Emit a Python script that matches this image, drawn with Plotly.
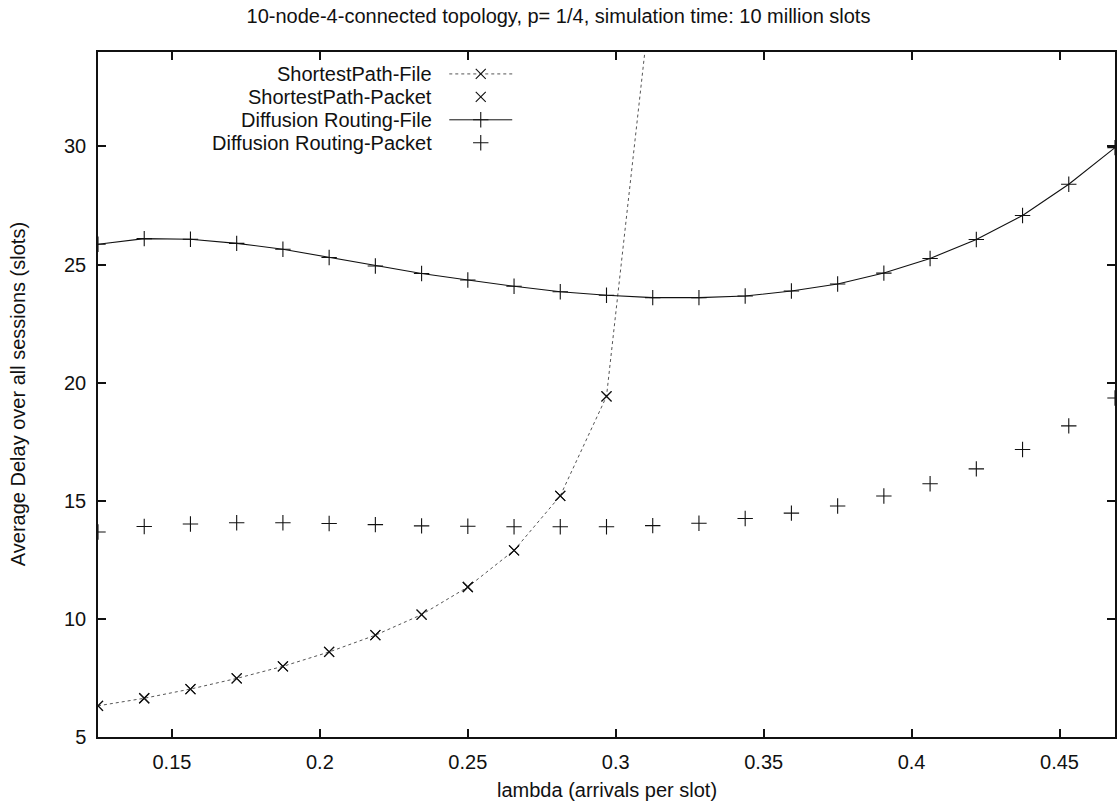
import plotly.graph_objects as go

# arrival rate grid: 1/8 .. 15/32 in steps of 1/64
lam = [0.125 + k / 64 for k in range(23)]

# average delay (slots) per routing scheme
sp_file = [6.32, 6.64, 7.03, 7.48, 7.99, 8.60, 9.31, 10.18, 11.35, 12.90, 15.21, 19.42, 37.0]
sp_packet = [6.32, 6.64, 7.03, 7.48, 7.99, 8.60, 9.31, 10.18, 11.35, 12.90, 15.21, 19.42]
diff_file = [25.86, 26.10, 26.07, 25.90, 25.65, 25.30, 24.94, 24.62, 24.35, 24.08, 23.85, 23.70,
             23.60, 23.60, 23.67, 23.88, 24.18, 24.64, 25.26, 26.06, 27.08, 28.40, 29.95]
diff_packet = [13.68, 13.91, 14.02, 14.07, 14.07, 14.04, 13.99, 13.94, 13.92, 13.90, 13.90, 13.90,
               13.95, 14.05, 14.25, 14.48, 14.78, 15.20, 15.72, 16.35, 17.17, 18.17, 19.35]

x_ticks = [0.15, 0.2, 0.25, 0.3, 0.35, 0.4, 0.45]
x_labels = ["0.15", "0.2", "0.25", "0.3", "0.35", "0.4", "0.45"]
y_ticks = [5, 10, 15, 20, 25, 30]
y_labels = ["5", "10", "15", "20", "25", "30"]

legend_names = ["ShortestPath-File", "ShortestPath-Packet",
                "Diffusion Routing-File", "Diffusion Routing-Packet"]

FONT = "Liberation Sans, Arial, Helvetica, sans-serif"
FS = 20
INK = "#111111"

x_mark = dict(symbol="x-thin", size=10, line=dict(width=1.1, color=INK), color=INK)
plus_mark = dict(symbol="cross-thin", size=11, line=dict(width=1.1, color=INK), color=INK)

fig = go.Figure()

fig.add_trace(go.Scatter(x=lam[:len(sp_file)], y=sp_file, mode="lines+markers",
                         line=dict(color="#555555", width=1, dash="dot"),
                         marker=x_mark, cliponaxis=True, showlegend=False))
fig.add_trace(go.Scatter(x=lam[:len(sp_packet)], y=sp_packet, mode="markers",
                         marker=x_mark, showlegend=False))
fig.add_trace(go.Scatter(x=lam, y=diff_file, mode="lines+markers",
                         line=dict(color=INK, width=1.1),
                         marker=plus_mark, showlegend=False))
fig.add_trace(go.Scatter(x=lam, y=diff_packet, mode="markers",
                         marker=plus_mark, showlegend=False))

# key drawn inside the frame, gnuplot style: text right-aligned, sample to the right
key_rows = [0.968, 0.9345, 0.901, 0.8675]
key_text_x = 0.3307
key_line = (0.3454, 0.4073)
key_mark_x = (key_line[0] + key_line[1]) / 2
key_styles = [("dot", "#555555", x_mark), (None, None, x_mark),
              ("solid", INK, plus_mark), (None, None, plus_mark)]
for name, ky, (dash, lcol, mk) in zip(legend_names, key_rows, key_styles):
    fig.add_annotation(x=key_text_x, y=ky, xref="paper", yref="paper", text=name,
                       showarrow=False, xanchor="right", yanchor="middle",
                       font=dict(family=FONT, size=FS, color=INK))
    if dash:
        fig.add_trace(go.Scatter(x=list(key_line), y=[ky, ky], xaxis="x2", yaxis="y2",
                                 mode="lines", line=dict(color=lcol, width=1, dash=dash),
                                 showlegend=False, hoverinfo="skip"))
    fig.add_trace(go.Scatter(x=[key_mark_x], y=[ky], xaxis="x2", yaxis="y2",
                             mode="markers", marker=mk, showlegend=False, hoverinfo="skip"))

axis_common = dict(showline=True, linecolor=INK, linewidth=1.5, mirror="allticks",
                   ticks="inside", ticklen=8, tickwidth=1.5, tickcolor=INK,
                   showgrid=False, zeroline=False,
                   tickfont=dict(family=FONT, size=FS, color=INK))

fig.update_layout(
    width=1117, height=807,
    margin=dict(l=98, r=0, t=52, b=70),
    paper_bgcolor="white", plot_bgcolor="white",
    title=dict(text="10-node-4-connected topology, p= 1/4, simulation time: 10 million slots",
               x=0.5, xref="container", xanchor="center",
               y=1 - 16 / 807, yref="container", yanchor="middle",
               font=dict(family=FONT, size=FS, color=INK)),
    xaxis=dict(range=[0.125, 0.46875], tickvals=x_ticks, ticktext=x_labels,
               ticklabelstandoff=6, **axis_common),
    yaxis=dict(range=[5, 34], tickvals=y_ticks, ticktext=y_labels,
               ticklabelstandoff=6, **axis_common),
    xaxis2=dict(range=[0, 1], overlaying="x", visible=False),
    yaxis2=dict(range=[0, 1], overlaying="y", visible=False),
    showlegend=False,
)

fig.add_annotation(x=0.5, y=-0.058, xref="paper", yref="paper",
                   text="lambda (arrivals per slot)", showarrow=False,
                   xanchor="center", yanchor="top",
                   font=dict(family=FONT, size=FS, color=INK))
fig.add_annotation(x=-0.079, y=0.5, xref="paper", yref="paper",
                   text="Average Delay over all sessions (slots)", showarrow=False,
                   textangle=-90, xanchor="center", yanchor="middle",
                   font=dict(family=FONT, size=FS, color=INK))

fig.write_html("out.html")
